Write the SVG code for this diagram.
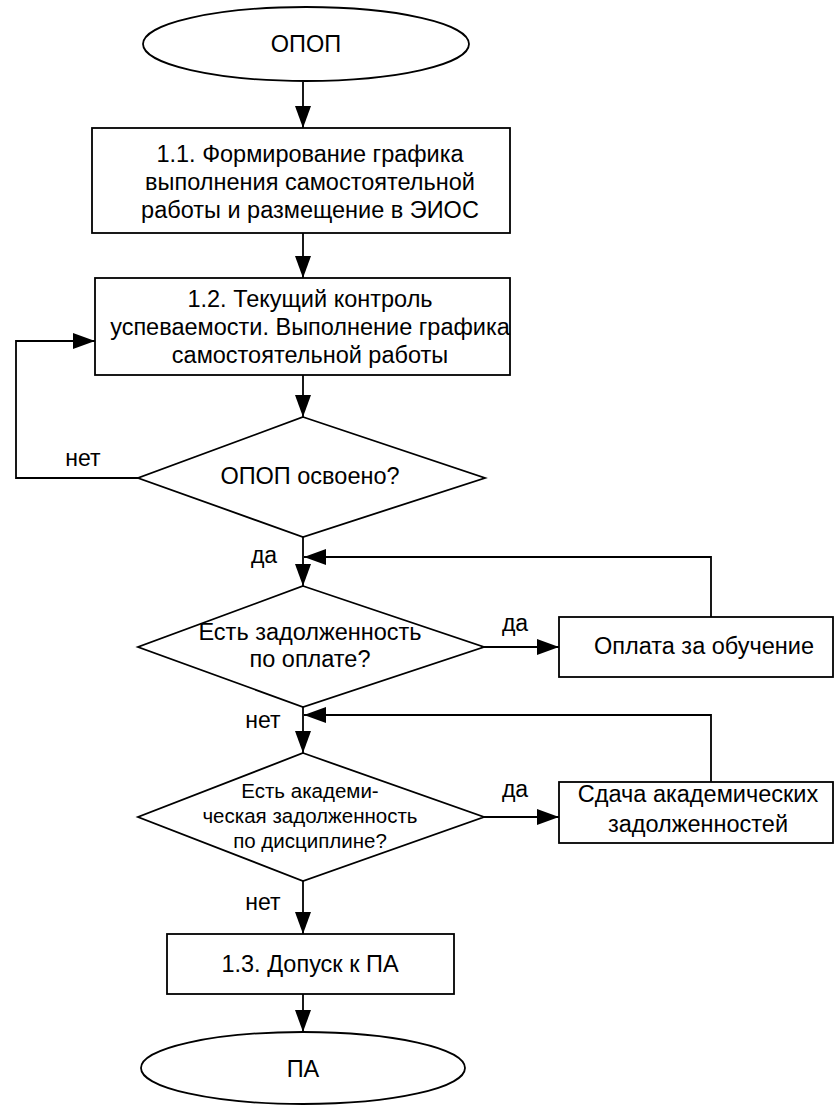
<svg xmlns="http://www.w3.org/2000/svg" width="838" height="1107" viewBox="0 0 838 1107">
<style>
.n{fill:#fff;stroke:#000;stroke-width:1.8}
.c{fill:none;stroke:#000;stroke-width:1.8}
text{font-family:"Liberation Sans",Arial,sans-serif;font-size:23.5px;fill:#000;text-anchor:middle}
.t{font-size:20.5px}
.l{font-size:23px}
</style>
<defs>
<marker id="a" markerWidth="22" markerHeight="16" refX="22" refY="8" orient="auto" markerUnits="userSpaceOnUse">
<path d="M0,0 L22,8 L0,16 Z" fill="#000"/>
</marker>
</defs>
<rect width="838" height="1107" fill="#fff"/>
<g id="connectors">
<line class="c" x1="303" y1="82" x2="303" y2="128" marker-end="url(#a)"/>
<line class="c" x1="303" y1="233" x2="303" y2="278" marker-end="url(#a)"/>
<line class="c" x1="303" y1="375" x2="303" y2="417" marker-end="url(#a)"/>
<polyline class="c" points="138,478 16,478 16,341 95,341" marker-end="url(#a)"/>
<line class="c" x1="303" y1="537" x2="303" y2="586" marker-end="url(#a)"/>
<polyline class="c" points="711,617 711,557 304,557" marker-end="url(#a)"/>
<line class="c" x1="484" y1="647" x2="559" y2="647" marker-end="url(#a)"/>
<line class="c" x1="303" y1="707" x2="303" y2="753" marker-end="url(#a)"/>
<polyline class="c" points="711,782 711,715 304,715" marker-end="url(#a)"/>
<line class="c" x1="484" y1="817" x2="559" y2="817" marker-end="url(#a)"/>
<line class="c" x1="303" y1="881" x2="303" y2="934" marker-end="url(#a)"/>
<line class="c" x1="303" y1="994" x2="303" y2="1032" marker-end="url(#a)"/>
<text class="l" x="83" y="466">нет</text>
<text class="l" x="264" y="563">да</text>
<text class="l" x="515" y="631">да</text>
<text class="l" x="263" y="728">нет</text>
<text class="l" x="515" y="797">да</text>
<text class="l" x="263" y="910">нет</text>
</g>
<g id="start">
<ellipse class="n" cx="306" cy="44" rx="163" ry="37"/>
<text x="306" y="52">ОПОП</text>
</g>
<g id="step11">
<rect class="n" x="92" y="128" width="418" height="105"/>
<text x="310" y="162">1.1. Формирование графика</text>
<text x="310" y="190">выполнения самостоятельной</text>
<text x="310" y="218">работы и размещение в ЭИОС</text>
</g>
<g id="step12">
<rect class="n" x="95" y="278" width="415" height="97"/>
<text x="310" y="307">1.2. Текущий контроль</text>
<text x="310" y="335">успеваемости. Выполнение графика</text>
<text x="310" y="363">самостоятельной работы</text>
</g>
<g id="dec1">
<polygon class="n" points="303,417 485,478 303,537 138,478"/>
<text x="310" y="484">ОПОП освоено?</text>
</g>
<g id="dec2">
<polygon class="n" points="303,586 484,647 303,707 138,647"/>
<text x="310" y="640">Есть задолженность</text>
<text x="310" y="667">по оплате?</text>
</g>
<g id="pay">
<rect class="n" x="559" y="617" width="274" height="60"/>
<text x="704" y="654">Оплата за обучение</text>
</g>
<g id="dec3">
<polygon class="n" points="303,753 484,817 303,881 138,817"/>
<text class="t" x="310" y="798">Есть академи-</text>
<text class="t" x="310" y="823">ческая задолженность</text>
<text class="t" x="310" y="848">по дисциплине?</text>
</g>
<g id="debts">
<rect class="n" x="559" y="782" width="274" height="61"/>
<text x="698" y="802">Сдача академических</text>
<text x="698" y="832">задолженностей</text>
</g>
<g id="step13">
<rect class="n" x="167" y="934" width="287" height="60"/>
<text x="310" y="972">1.3. Допуск к ПА</text>
</g>
<g id="end">
<ellipse class="n" cx="303" cy="1068" rx="162" ry="36"/>
<text x="303" y="1077">ПА</text>
</g>
</svg>
